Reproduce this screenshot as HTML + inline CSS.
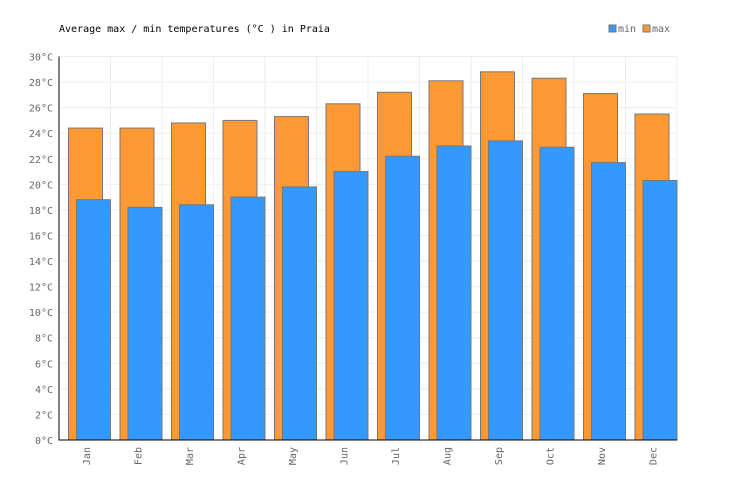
<!DOCTYPE html>
<html><head><meta charset="utf-8"><style>
body{margin:0;background:#fff;font-family:"DejaVu Sans Mono","Liberation Mono",monospace;}
svg text{font-family:"DejaVu Sans Mono","Liberation Mono",monospace;}
</style></head><body>
<svg id="chart" width="736" height="500" xmlns="http://www.w3.org/2000/svg">
<text x="59" y="32" font-size="10" fill="#000">Average max / min temperatures (°C ) in Praia</text>
<g>
<rect x="609" y="25" width="7" height="7" fill="#3399ff" stroke="#777"/>
<text x="618" y="32" font-size="10" fill="#666">min</text>
<rect x="643" y="25" width="7" height="7" fill="#ff9933" stroke="#777"/>
<text x="652" y="32" font-size="10" fill="#666">max</text>
</g>
<g id="grid"></g><g id="bars"></g><g id="axes"></g>
</svg>
<script>
const months=["Jan","Feb","Mar","Apr","May","Jun","Jul","Aug","Sep","Oct","Nov","Dec"];
const maxTemps=[24.4,24.4,24.8,25.0,25.3,26.3,27.2,28.1,28.8,28.3,27.1,25.5];
const minTemps=[18.8,18.2,18.4,19.0,19.8,21.0,22.2,23.0,23.4,22.9,21.7,20.3];
const yTicks=[0,2,4,6,8,10,12,14,16,18,20,22,24,26,28,30];
const NS="http://www.w3.org/2000/svg";
const x0=59,x1=677,yTop=56.5,yBot=440,yMax=30;
const band=(x1-x0)/months.length;
const y=v=>yBot-(v/yMax)*(yBot-yTop);
const xb=i=>x0+i*band;
function mk(tag,attrs,parent){const e=document.createElementNS(NS,tag);for(const k in attrs)e.setAttribute(k,attrs[k]);parent.appendChild(e);return e;}
const grid=document.getElementById('grid'),bars=document.getElementById('bars'),axes=document.getElementById('axes');
yTicks.forEach(t=>{
 const l=mk('line',{x1:x0,x2:x1,y1:y(t),y2:y(t),stroke:'#eee'},grid);
 
 
 const tx=mk('text',{x:53,y:y(t)+4,'font-size':10,fill:'#666','text-anchor':'end'},axes);
 tx.textContent=t+'°C';
 
 
});
for(let i=1;i<=months.length;i++){
 const l=mk('line',{x1:xb(i),x2:xb(i),y1:yTop,y2:yBot,stroke:'#eee'},grid);
 
 
}
months.forEach((m,i)=>{
 const b=xb(i);
 const r1=mk('rect',{x:b+9.5,y:y(maxTemps[i]),width:34,height:yBot-y(maxTemps[i]),fill:'#ff9933',stroke:'#777'},bars);
 
 
 const r2=mk('rect',{x:b+17.5,y:y(minTemps[i]),width:34,height:yBot-y(minTemps[i]),fill:'#3399ff',stroke:'#777'},bars);
 
 
 const cx=b+band/2+1,cy=447;
 const tx=mk('text',{x:cx,y:cy,'font-size':10,fill:'#666','text-anchor':'end',transform:`rotate(-90 ${cx} ${cy}) translate(0 4)`},axes);
 tx.textContent=m;
 
 
});
const ya=mk('line',{x1:x0,x2:x0,y1:yTop,y2:yBot+0.5,stroke:'#000'},axes);


const xa=mk('line',{x1:x0,x2:x1,y1:yBot,y2:yBot,stroke:'#000'},axes);


</script>
</body></html>
